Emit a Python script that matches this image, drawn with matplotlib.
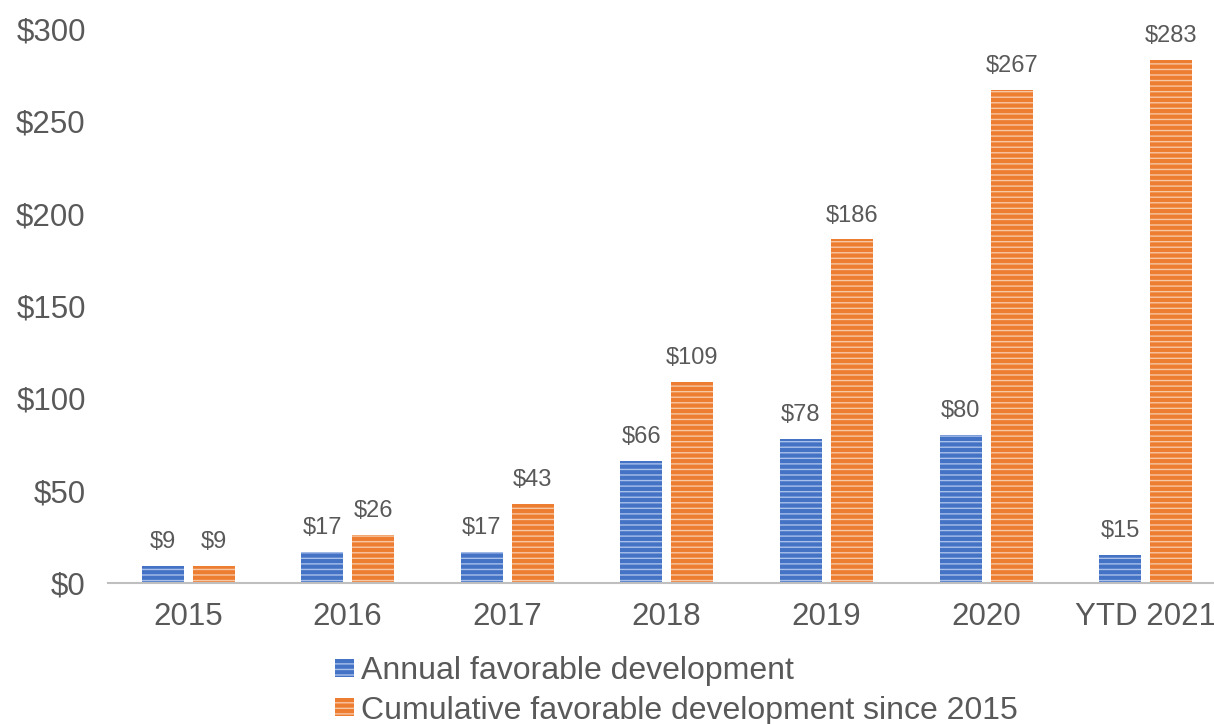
import numpy as np
import matplotlib.pyplot as plt

plt.rcParams['font.family'] = ['Liberation Sans', 'DejaVu Sans']
plt.rcParams['hatch.linewidth'] = 1.0

categories = ['2015', '2016', '2017', '2018', '2019', '2020', 'YTD 2021']
annual = [9, 17, 17, 66, 78, 80, 15]
cumulative = [9, 26, 43, 109, 186, 267, 283]

blue, blue_l = '#4472C4', '#A9C0EA'
orange, orange_l = '#ED7D31', '#F8C7A4'
txt = '#595959'

fig = plt.figure(figsize=(12.14, 7.24), dpi=100)
ax = fig.add_axes([0.089, 0.1948, 0.911, 0.7652])

x = np.arange(len(categories))
w = 0.263
b1 = ax.bar(x - 0.158, annual, w, color=blue, edgecolor=blue_l, linewidth=0,
            hatch='---', label='Annual favorable development')
b2 = ax.bar(x + 0.162, cumulative, w, color=orange, edgecolor=orange_l, linewidth=0,
            hatch='---', label='Cumulative favorable development since 2015')

for bars, vals in ((b1, annual), (b2, cumulative)):
    for r, v in zip(bars, vals):
        ax.text(r.get_x() + r.get_width() / 2, v + 7, f'${v}', ha='center',
                va='bottom', fontsize=17, color=txt)

ax.set_ylim(0, 300)
ax.set_xlim(-0.5, 6.43)
ax.set_yticks(range(0, 301, 50))
ax.set_yticklabels([f'${v}' for v in range(0, 301, 50)])
ax.set_xticks(x)
ax.set_xticklabels(categories)
ax.tick_params(axis='both', length=0, labelsize=22.5, colors=txt)
ax.tick_params(axis='x', pad=14)
ax.tick_params(axis='y', pad=16)
for s in ['top', 'right', 'left']:
    ax.spines[s].set_visible(False)
ax.spines['bottom'].set_color('#BFBFBF')
ax.spines['bottom'].set_linewidth(1.5)

leg = fig.legend(handles=[b1, b2], loc='lower center', bbox_to_anchor=(0.557, -0.02),
                 ncol=1, frameon=False, fontsize=23, handlelength=0.6, handleheight=0.5,
                 handletextpad=0.2, labelspacing=0.3, borderaxespad=0)
for t in leg.get_texts():
    t.set_color(txt)

fig.savefig('out.png', dpi=100)
